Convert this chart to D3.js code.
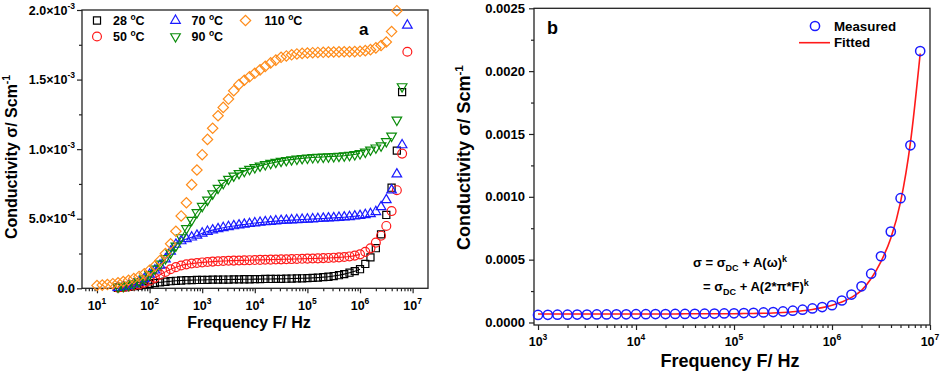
<!DOCTYPE html>
<html>
<head>
<meta charset="utf-8">
<script src="https://cdn.jsdelivr.net/npm/d3@7"></script>
<style>
  html, body { margin: 0; padding: 0; background: #fff; }
  svg { display: block; }
</style>
</head>
<body>
<svg id="chart" width="941" height="373"></svg>
<script>
// Frequency sweep (Hz), shared by both panels
const freqHz = [
  10, 12.6, 15.8, 20.0, 25.1, 31.6, 39.8, 50.1, 63.1, 79.4,
  100, 126, 158, 200, 251, 316, 398, 501, 631, 794,
  1000, 1260, 1580, 2000, 2510, 3160, 3980, 5010, 6310, 7940,
  1.00e4, 1.26e4, 1.58e4, 2.00e4, 2.51e4, 3.16e4, 3.98e4, 5.01e4, 6.31e4, 7.94e4,
  1.00e5, 1.26e5, 1.58e5, 2.00e5, 2.51e5, 3.16e5, 3.98e5, 5.01e5, 6.31e5, 7.94e5,
  1.00e6, 1.26e6, 1.58e6, 2.00e6, 2.51e6, 3.16e6, 3.98e6, 5.01e6, 6.31e6, 7.94e6
];

// Conductivity in units of 1e-3 S/cm (null = not measured)
const sigma28 = [
  null, null, null, null, 0.003, 0.006, 0.010, 0.015, 0.020, 0.026,
  0.032, 0.038, 0.043, 0.047, 0.051, 0.054, 0.056, 0.058, 0.059, 0.060,
  0.060, 0.061, 0.062, 0.062, 0.063, 0.063, 0.064, 0.064, 0.065, 0.065,
  0.066, 0.066, 0.067, 0.067, 0.068, 0.068, 0.069, 0.070, 0.071, 0.072,
  0.073, 0.075, 0.077, 0.080, 0.083, 0.088, 0.094, 0.102, 0.112, 0.123,
  0.137, 0.175, 0.222, 0.288, 0.388, 0.527, 0.723, 0.989, 1.410, 2.160
];
const sigma50 = [
  null, null, null, null, 0.004, 0.008, 0.013, 0.020, 0.028, 0.040,
  0.055, 0.075, 0.098, 0.118, 0.137, 0.152, 0.164, 0.172, 0.178, 0.182,
  0.186, 0.189, 0.192, 0.194, 0.196, 0.198, 0.199, 0.200, 0.201, 0.202,
  0.203, 0.204, 0.205, 0.206, 0.207, 0.208, 0.209, 0.210, 0.211, 0.212,
  0.213, 0.214, 0.215, 0.217, 0.218, 0.220, 0.222, 0.225, 0.229, 0.235,
  0.244, 0.262, 0.287, 0.328, 0.378, 0.448, 0.555, 0.705, 0.968, 1.700
];
const sigma70 = [
  null, null, null, null, 0.005, 0.010, 0.018, 0.030, 0.045, 0.068,
  0.100, 0.130, 0.165, 0.210, 0.265, 0.315, 0.340, 0.355, 0.367, 0.380,
  0.395, 0.408, 0.418, 0.427, 0.435, 0.442, 0.448, 0.454, 0.459, 0.464,
  0.469, 0.473, 0.477, 0.480, 0.483, 0.486, 0.488, 0.490, 0.492, 0.494,
  0.496, 0.498, 0.500, 0.502, 0.504, 0.506, 0.508, 0.511, 0.514, 0.518,
  0.522, 0.528, 0.535, 0.550, 0.585, 0.635, 0.705, 0.820, 1.030, 1.890
];
const sigma90 = [
  null, null, null, null, 0.010, 0.015, 0.022, 0.033, 0.048, 0.070,
  0.100, 0.140, 0.175, 0.215, 0.255, 0.305, 0.365, 0.430, 0.490, 0.545,
  0.590, 0.635, 0.680, 0.720, 0.755, 0.785, 0.808, 0.826, 0.842, 0.856,
  0.869, 0.880, 0.890, 0.899, 0.907, 0.914, 0.920, 0.925, 0.930, 0.934,
  0.937, 0.940, 0.942, 0.944, 0.946, 0.948, 0.950, 0.953, 0.957, 0.962,
  0.969, 0.980, 0.995, 1.010, 1.025, 1.055, 1.095, 1.210, 1.450, null
];
const sigma110 = [
  0.020, 0.023, 0.027, 0.033, 0.040, 0.048, 0.058, 0.070, 0.085, 0.105,
  0.130, 0.160, 0.200, 0.250, 0.320, 0.410, 0.520, 0.615, 0.745, 0.850,
  0.960, 1.070, 1.150, 1.240, 1.300, 1.360, 1.420, 1.465, 1.495, 1.520,
  1.545, 1.570, 1.595, 1.620, 1.640, 1.660, 1.670, 1.678, 1.684, 1.688,
  1.691, 1.693, 1.695, 1.696, 1.697, 1.698, 1.699, 1.700, 1.700, 1.701,
  1.703, 1.708, 1.715, 1.728, 1.745, 1.770, 1.845, 1.995, null, null
];

// Panel b: fitted curve (1e-3 S/cm) for the 28 °C data from 1 kHz up
const fitSigma = [
  0.068, 0.068, 0.068, 0.068, 0.068, 0.068, 0.068, 0.068, 0.068, 0.068,
  0.068, 0.068, 0.068, 0.068, 0.068, 0.069, 0.069, 0.069, 0.069, 0.070,
  0.070, 0.071, 0.072, 0.073, 0.075, 0.079, 0.085, 0.093, 0.104, 0.118,
  0.137, 0.163, 0.200, 0.255, 0.350, 0.485, 0.670, 0.960, 1.430, 2.140
];

const tempLabels = ['28', '50', '70', '90', '110'];

// Tick labels
const xTickValsA = [1e1, 1e2, 1e3, 1e4, 1e5, 1e6, 1e7];
const xTickExpA = ['1', '2', '3', '4', '5', '6', '7'];
const yTickValsA = [0, 0.5, 1.0, 1.5, 2.0];
const yTickMantA = ['0.0', '5.0×10', '1.0×10', '1.5×10', '2.0×10'];
const yTickExpA = ['', '-4', '-3', '-3', '-3'];

const xTickValsB = [1e3, 1e4, 1e5, 1e6, 1e7];
const xTickExpB = ['3', '4', '5', '6', '7'];
const yTickValsB = [0, 0.5, 1.0, 1.5, 2.0, 2.5];
const yTickLabelsB = ['0.0000', '0.0005', '0.0010', '0.0015', '0.0020', '0.0025'];

// ---------------------------------------------------------------
const FONT = '"Liberation Sans", Arial, Helvetica, sans-serif';
const AXIS = '#222';

const svg = d3.select('#chart')
    .style('font-family', FONT)
    .style('font-weight', 'bold');

const shapes = {
    square:  { type: d3.symbolSquare,   size: 50, rot: 0 },
    circle:  { type: d3.symbolCircle,   size: 62, rot: 0 },
    up:      { type: d3.symbolTriangle, size: 40, rot: 0 },
    down:    { type: d3.symbolTriangle, size: 40, rot: 180 },
    diamond: { type: d3.symbolSquare,   size: 54, rot: 45 }
};

const seriesA = [
    { name: tempLabels[0], values: sigma28,  color: '#000000', shape: 'square',  fit: true },
    { name: tempLabels[1], values: sigma50,  color: '#ff1a1a', shape: 'circle',  fit: true },
    { name: tempLabels[2], values: sigma70,  color: '#1a1aff', shape: 'up',      fit: true },
    { name: tempLabels[3], values: sigma90,  color: '#0a8c0a', shape: 'down',    fit: true },
    { name: tempLabels[4], values: sigma110, color: '#ff8c1a', shape: 'diamond', fit: false }
];

function marker(g, shape, x, y, color, sw) {
    const s = shapes[shape];
    g.append('path')
        .attr('d', d3.symbol().type(s.type).size(s.size)())
        .attr('transform', `translate(${x},${y}) rotate(${s.rot})`)
        .attr('fill', 'none')
        .attr('stroke', color)
        .attr('stroke-width', sw || 1.2);
}

function supText(t, base, sup, size, dy) {
    t.append('tspan').text(base);
    if (sup) t.append('tspan').attr('dy', -dy).attr('font-size', size).text(sup);
}

function isDecade(v) {
    const l = Math.log10(v);
    return Math.abs(l - Math.round(l)) < 1e-6;
}

// Axes + frame for one panel
function drawFrame(g, x, y, cfg) {
    const [x0, x1] = x.range();
    const [y0, y1] = y.range();

    const style = sel => {
        sel.select('.domain').remove();
        sel.selectAll('line').attr('stroke', AXIS).attr('stroke-width', 1.2);
    };

    // bottom: decades + minor ticks
    g.append('g')
        .attr('transform', `translate(0,${y0})`)
        .call(d3.axisBottom(x).tickValues(cfg.xMajor).tickSize(5).tickFormat(''))
        .call(style);
    g.append('g')
        .attr('transform', `translate(0,${y0})`)
        .call(d3.axisBottom(x).tickValues(x.ticks().filter(t => !isDecade(t))).tickSize(3).tickFormat(''))
        .call(style);

    // left: major + one minor between
    const yMinor = cfg.yMajor.slice(1).map((v, i) => (v + cfg.yMajor[i]) / 2);
    g.append('g')
        .attr('transform', `translate(${x0},0)`)
        .call(d3.axisLeft(y).tickValues(cfg.yMajor).tickSize(5).tickFormat(''))
        .call(style);
    g.append('g')
        .attr('transform', `translate(${x0},0)`)
        .call(d3.axisLeft(y).tickValues(yMinor).tickSize(3).tickFormat(''))
        .call(style);

    g.append('rect')
        .attr('x', x0).attr('y', y1)
        .attr('width', x1 - x0).attr('height', y0 - y1)
        .attr('fill', 'none')
        .attr('stroke', AXIS)
        .attr('stroke-width', 1.3);

    // decade labels 10^n
    cfg.xMajor.forEach((v, i) => {
        const t = g.append('text')
            .attr('x', x(v))
            .attr('y', y0 + cfg.xLabelDy)
            .attr('text-anchor', 'middle')
            .attr('font-size', cfg.tickSize);
        supText(t, '10', cfg.xExp[i], 8.5, 6);
    });
}

function yTitle(x, y, size) {
    const t = svg.append('text')
        .attr('transform', `translate(${x},${y}) rotate(-90)`)
        .attr('text-anchor', 'middle')
        .attr('font-size', size);
    t.append('tspan').text('Conductivity σ/ Scm');
    t.append('tspan').attr('dy', -size * 0.4).attr('font-size', size * 0.65).text('-1');
}

function xTitle(x, y, size) {
    svg.append('text')
        .attr('x', x).attr('y', y)
        .attr('text-anchor', 'middle')
        .attr('font-size', size)
        .text('Frequency F/ Hz');
}

// ---------------- Panel a ----------------
const xA = d3.scaleLog().domain([5.19, 1.96e7]).range([82, 428]);
const yA = d3.scaleLinear().domain([0, 2.0]).range([288.3, 10]);
const gA = svg.append('g');

drawFrame(gA, xA, yA, {
    xMajor: xTickValsA, xExp: xTickExpA, yMajor: yTickValsA,
    xLabelDy: 22, tickSize: 12.5
});

yTickValsA.forEach((v, i) => {
    const t = gA.append('text')
        .attr('x', 75)
        .attr('y', yA(v))
        .attr('dy', '0.36em')
        .attr('text-anchor', 'end')
        .attr('font-size', 12.5);
    supText(t, yTickMantA[i], yTickExpA[i], 8.5, 6);
});

// fitted lines (thin, under the markers)
const lineA = d3.line()
    .defined(d => d.v !== null)
    .x(d => xA(d.f))
    .y(d => yA(d.v))
    .curve(d3.curveMonotoneX);

seriesA.filter(s => s.fit).forEach(s => {
    const pts = freqHz.map((f, i) => ({ f, v: s.values[i] })).filter(d => d.f <= 1e6);
    gA.append('path')
        .attr('d', lineA(pts))
        .attr('fill', 'none')
        .attr('stroke', s.color)
        .attr('stroke-width', 1.1);
});

seriesA.forEach(s => {
    const g = gA.append('g');
    freqHz.forEach((f, i) => {
        const v = s.values[i];
        if (v === null || v > yA.domain()[1]) return;
        marker(g, s.shape, xA(f), yA(v), s.color);
    });
});

// legend a
const legA = [
    { x: 97,    y: 20.5 }, { x: 97,    y: 36.5 },
    { x: 175.5, y: 20.5 }, { x: 175.5, y: 36.5 },
    { x: 245.5, y: 20.5 }
];
seriesA.forEach((s, i) => {
    const p = legA[i];
    marker(gA, s.shape, p.x, p.y, s.color);
    const t = gA.append('text')
        .attr('x', p.x + (i === 4 ? 19 : 16))
        .attr('y', p.y + 4)
        .attr('font-size', 12.5);
    t.append('tspan').text(s.name + ' ');
    t.append('tspan').attr('dy', -5).attr('font-size', 8.5).text('o');
    t.append('tspan').attr('dy', 5).text('C');
});

gA.append('text').attr('x', 359).attr('y', 35).attr('font-size', 17).text('a');

yTitle(16.5, 157, 16);
xTitle(249, 328, 16);

// ---------------- Panel b ----------------
const xB = d3.scaleLog().domain([910, 1e7]).range([534, 930]);
const yB = d3.scaleLinear().domain([-0.02, 2.5]).range([325, 8.3]);
const gB = svg.append('g');

drawFrame(gB, xB, yB, {
    xMajor: xTickValsB, xExp: xTickExpB, yMajor: yTickValsB,
    xLabelDy: 21, tickSize: 12.5
});

yTickValsB.forEach((v, i) => {
    gB.append('text')
        .attr('x', 525)
        .attr('y', yB(v))
        .attr('dy', '0.36em')
        .attr('text-anchor', 'end')
        .attr('font-size', 13)
        .text(yTickLabelsB[i]);
});

const freqB = freqHz.slice(20);
const measB = sigma28.slice(20);

gB.append('path')
    .attr('d', d3.line()
        .x((d, i) => xB(freqB[i]))
        .y(d => yB(d))
        .curve(d3.curveMonotoneX)(fitSigma))
    .attr('fill', 'none')
    .attr('stroke', '#ff1a1a')
    .attr('stroke-width', 1.6);

gB.append('g').selectAll('circle')
    .data(measB)
    .enter()
    .append('circle')
    .attr('cx', (d, i) => xB(freqB[i]))
    .attr('cy', d => yB(d))
    .attr('r', 4.6)
    .attr('fill', 'none')
    .attr('stroke', '#1a1aff')
    .attr('stroke-width', 1.5);

// legend b
gB.append('circle').attr('cx', 815).attr('cy', 26).attr('r', 4.6)
    .attr('fill', 'none').attr('stroke', '#1a1aff').attr('stroke-width', 1.5);
gB.append('text').attr('x', 834).attr('y', 30.5).attr('font-size', 13.3).text('Measured');
gB.append('line').attr('x1', 799).attr('x2', 830).attr('y1', 42.7).attr('y2', 42.7)
    .attr('stroke', '#ff1a1a').attr('stroke-width', 1.6);
gB.append('text').attr('x', 834).attr('y', 47).attr('font-size', 13.3).text('Fitted');

gB.append('text').attr('x', 547).attr('y', 34).attr('font-size', 18).text('b');

// formula
const f1 = gB.append('text').attr('x', 693).attr('y', 266.5).attr('font-size', 13);
f1.append('tspan').text('σ = σ');
f1.append('tspan').attr('dy', 4).attr('font-size', 9).text('DC');
f1.append('tspan').attr('dy', -4).text(' + A(ω)');
f1.append('tspan').attr('dy', -5).attr('font-size', 9).text('k');

const f2 = gB.append('text').attr('x', 703).attr('y', 291).attr('font-size', 13);
f2.append('tspan').text('= σ');
f2.append('tspan').attr('dy', 4).attr('font-size', 9).text('DC');
f2.append('tspan').attr('dy', -4).text(' + A(2*π*F)');
f2.append('tspan').attr('dy', -5).attr('font-size', 9).text('k');

yTitle(470, 157.5, 18);
xTitle(730, 367, 18);
</script>
</body>
</html>
